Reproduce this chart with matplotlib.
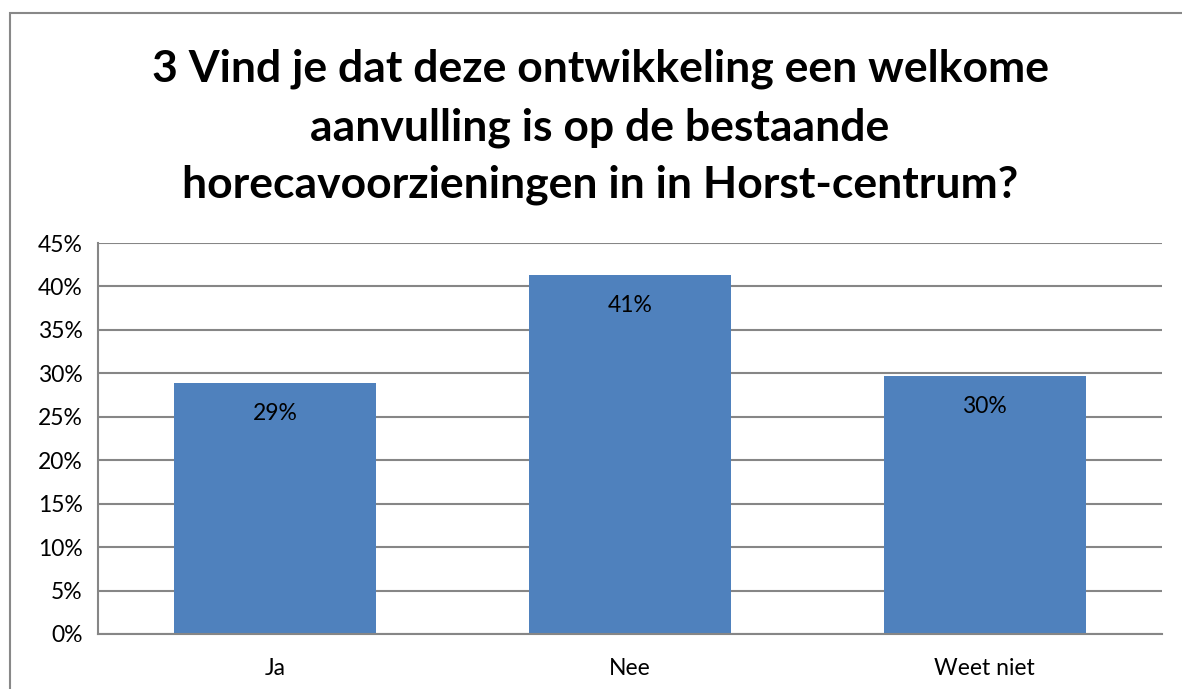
import matplotlib
matplotlib.use("Agg")
import matplotlib.pyplot as plt
from matplotlib.patches import Rectangle
from matplotlib.ticker import FuncFormatter, MultipleLocator

categories = ["Ja", "Nee", "Weet niet"]
values = [28.9, 41.3, 29.7]
value_labels = ["29%", "41%", "30%"]
title_lines = ["3 Vind je dat deze ontwikkeling een welkome",
               "aanvulling is op de bestaande",
               "horecavoorzieningen in in Horst-centrum?"]

plt.rcParams['font.family'] = ['Lato', 'DejaVu Sans']

W, H = 1182, 689
fig = plt.figure(figsize=(W / 100, H / 100), dpi=100)
fig.patch.set_facecolor("white")

# outer chart frame (extends past right/bottom edge)
fig.patches.append(Rectangle((10 / W, -0.1), 1.2, (H - 13) / H + 0.1,
                             transform=fig.transFigure, fill=False,
                             edgecolor="#888888", linewidth=1.5))

ax = fig.add_axes([98 / W, (H - 634) / H, (1162 - 98) / W, (634 - 243) / H])
x = range(len(categories))
bars = ax.bar(x, values, width=0.57, color="#4F81BD", zorder=2)
ax.set_xlim(-0.5, len(categories) - 0.5)
ax.set_ylim(0, 45)
ax.yaxis.set_major_locator(MultipleLocator(5))
ax.yaxis.set_major_formatter(FuncFormatter(lambda v, p: f"{int(round(v))}%"))
ax.grid(axis="y", color="#868686", linewidth=1.5, zorder=0)
ax.set_xticks(list(x))
ax.set_xticklabels(categories)
ax.tick_params(axis="both", length=0, labelsize=16.5, colors="black")
ax.tick_params(axis="x", pad=17)
ax.tick_params(axis="y", pad=11)
for s in ["top", "right"]:
    ax.spines[s].set_visible(False)
for s in ["left", "bottom"]:
    ax.spines[s].set_color("#868686")
    ax.spines[s].set_linewidth(1.5)

for rect, lab in zip(bars, value_labels):
    ax.annotate(lab, (rect.get_x() + rect.get_width() / 2, rect.get_height()),
                xytext=(0, -22), textcoords="offset points", ha="center",
                va="center", fontsize=16.5, color="black", zorder=3)

for i, (line, yc) in enumerate(zip(title_lines, [69, 128, 185])):
    fig.text(600 / W, 1 - yc / H, line, ha="center", va="center",
             fontsize=32, fontweight="bold", color="black")

fig.savefig("out.png", dpi=100)
